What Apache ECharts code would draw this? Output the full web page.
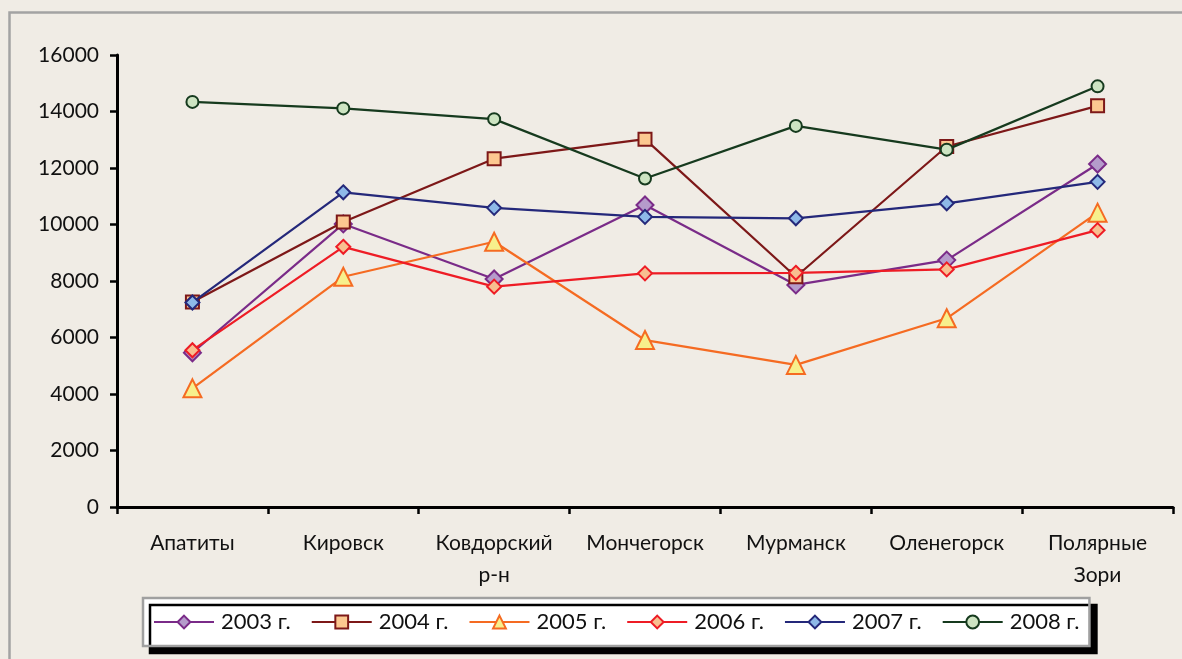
<!DOCTYPE html>
<html>
<head>
<meta charset="utf-8">
<script src="https://cdn.jsdelivr.net/npm/echarts@6/dist/echarts.min.js"></script>
<style>
html,body{margin:0;padding:0;background:#F0ECE5;}
#chart{width:1182px;height:659px;}
</style>
</head>
<body>
<div id="chart"></div>
<script>
const categories = ['Апатиты', 'Кировск', 'Ковдорский\nр-н', 'Мончегорск', 'Мурманск', 'Оленегорск', 'Полярные\nЗори'];
const seriesNames = ['2003 г.', '2004 г.', '2005 г.', '2006 г.', '2007 г.', '2008 г.'];
const v2003 = [5460, 10020, 8070, 10690, 7860, 8740, 12140];
const v2004 = [7260, 10090, 12330, 13020, 8150, 12760, 14200];
const v2005 = [4200, 8150, 9390, 5910, 5030, 6680, 10420];
const v2006 = [5550, 9210, 7800, 8270, 8290, 8410, 9800];
const v2007 = [7240, 11140, 10590, 10270, 10220, 10750, 11510];
const v2008 = [14340, 14110, 13730, 11630, 13490, 12650, 14890];
const yTicks = [0, 2000, 4000, 6000, 8000, 10000, 12000, 14000, 16000];

const FONT = 'Lato, "Noto Sans", sans-serif';
const styles = [
  {line:'#7A2B88', fill:'#B59BCB', symbol:'diamond', size:17, data:v2003},
  {line:'#7D1818', fill:'#FCC890', symbol:'rect', size:13, data:v2004},
  {line:'#F56B22', fill:'#F7F08C', symbol:'triangle', size:18, data:v2005},
  {line:'#EE1C25', fill:'#F8BF90', symbol:'diamond', size:14, data:v2006},
  {line:'#24287A', fill:'#8EB9E8', symbol:'diamond', size:14, data:v2007},
  {line:'#163A1E', fill:'#CDE4C2', symbol:'circle', size:12, data:v2008}
];

const chart = echarts.init(document.getElementById('chart'), null, {renderer:'canvas'});
chart.setOption({
  backgroundColor:'#F0ECE5',
  animation:false,
  graphic:[{
    type:'rect', left:7, top:10, shape:{width:1300, height:800},
    style:{fill:'none', stroke:'#A3A3A3', lineWidth:2.5}, z:-1
  }],
  grid:{left:117, right:9, top:55, bottom:152, containLabel:false},
  xAxis:{
    type:'category', data:categories, boundaryGap:true,
    axisLine:{lineStyle:{color:'#000', width:3}},
    axisTick:{show:true, length:7, lineStyle:{color:'#000', width:2.5}, alignWithLabel:false},
    axisLabel:{color:'#111', fontFamily:FONT, fontSize:21, lineHeight:32, margin:20, interval:0}
  },
  yAxis:{
    type:'value', min:0, max:16000, interval:2000,
    axisLine:{show:true, lineStyle:{color:'#000', width:3}},
    axisTick:{show:true, length:7, lineStyle:{color:'#000', width:2.5}},
    splitLine:{show:false},
    axisLabel:{color:'#111', fontFamily:FONT, fontSize:21, margin:18,
      formatter:function(v){return yTicks.indexOf(v)>=0 ? String(v) : '';}}
  },
  legend:{
    left:143, top:598, itemWidth:60, itemHeight:16, itemGap:20,
    padding:[13,10,13,10],
    backgroundColor:'#FFFFFF', borderColor:'#A0A0A0', borderWidth:2.5, borderRadius:0,
    shadowColor:'#000', shadowBlur:0, shadowOffsetX:7, shadowOffsetY:7,
    textStyle:{color:'#111', fontFamily:FONT, fontSize:22, padding:[0,0,0,2]},
    data:seriesNames
  },
  series: styles.map((s,i)=>({
    name:seriesNames[i], type:'line', data:s.data,
    symbol:s.symbol, symbolSize:s.size, showAllSymbol:true,
    lineStyle:{color:s.line, width:2.2},
    itemStyle:{color:s.fill, borderColor:s.line, borderWidth:2},
    z: 2+i
  }))
});
</script>
</body>
</html>
